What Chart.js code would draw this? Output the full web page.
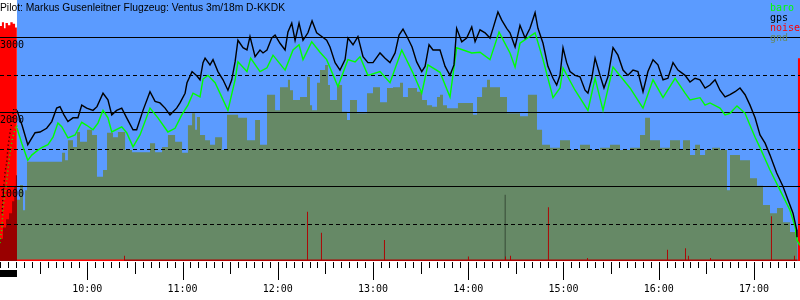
<!DOCTYPE html>
<html>
<head>
<meta charset="utf-8">
<script src="https://cdn.jsdelivr.net/npm/chart.js@4/dist/chart.umd.min.js"></script>
<style>
html,body{margin:0;padding:0;background:#fff;}
#wrap{width:800px;height:300px;}
</style>
</head>
<body>
<div id="wrap"><canvas id="c" width="800" height="300"></canvas></div>
<script>
// ---- texts ----
const TITLE = "Pilot: Markus Gusenleitner Flugzeug: Ventus 3m/18m D-KKDK";
const legendLabels = ["baro", "gps", "noise", "gnd"];
const yTickLabels = [1000, 2000, 3000];
const yGridValues = [500, 1000, 1500, 2000, 2500, 3000];
const hourTicks = [600, 660, 720, 780, 840, 900, 960, 1020]; // minutes since midnight
// time range (minutes since midnight)
const xMin = 545, xMax = 1049;
const flightStart = 555.7;
const preFlight = [545, 555.7];

// ---- gps altitude ----
const gpsTime = [546.3,546.9,548.2,549.4,550.0,551.3,553.8,555.7,558.9,562.5,567.1,570.2,574.4,577.6,580.7,582.8,585.3,587.8,591.0,594.1,596.5,599.6,603.6,606.1,609.9,613.0,615.4,618.5,621.7,624.8,628.8,631.1,635.1,639.5,642.7,645.8,649.0,652.1,656.3,658.4,661.6,662.8,666.0,669.1,671.0,672.9,674.2,677.3,679.2,682.3,685.5,688.6,691.0,693.1,694.9,698.1,700.6,702.5,705.7,708.8,710.7,713.2,716.2,718.3,721.4,724.6,726.4,728.8,730.9,733.4,735.9,739.0,741.6,744.5,747.7,750.8,752.9,756.1,759.2,762.4,764.2,767.4,770.5,773.7,776.8,780.0,784.4,787.6,790.7,793.9,796.4,798.9,801.4,804.6,807.5,810.7,812.8,815.3,817.8,822.2,825.4,828.5,831.0,832.7,835.9,839.0,842.2,844.3,847.4,850.6,853.7,855.6,858.7,861.1,864.2,866.3,869.5,872.6,875.8,878.9,882.1,883.9,887.1,890.2,893.4,895.7,897.8,899.7,902.0,904.1,907.3,910.4,913.6,915.4,917.8,919.9,923.0,925.5,928.0,931.2,934.3,937.5,940.6,943.8,946.9,950.1,953.2,956.4,959.5,962.7,965.8,969.0,972.1,976.6,979.7,982.9,986.0,989.2,992.3,995.5,998.6,1001.8,1004.9,1008.1,1011.2,1014.4,1017.5,1020.7,1023.8,1027.0,1030.1,1034.3,1038.3,1041.4,1044.6,1046.9,1047.1];
const gpsAlt = [640,890,1190,1350,1530,1720,2050,2020,1820,1560,1720,1730,1780,1870,2050,2070,1960,1870,1920,1920,2090,2050,2020,2070,2250,2160,1960,2020,2050,1920,1760,1760,2020,2270,2140,2120,2050,1960,2050,2120,2250,2390,2540,2480,2430,2660,2720,2630,2700,2540,2430,2290,2430,2670,2960,2860,2830,3010,2740,2830,2790,2830,2990,3030,2920,2830,3070,3190,2960,3190,2960,3060,3220,3060,3010,2960,2870,2660,2560,2700,2990,2900,3010,2740,2660,2660,2790,2720,2660,2790,3030,3110,3010,2870,2670,2540,2610,2900,2830,2830,2610,2490,2630,3120,2940,2990,3140,2940,3100,3060,2990,3120,3340,3230,3120,3060,2870,3160,2990,3120,3330,3120,2920,2610,2450,2360,2490,2860,2660,2540,2490,2470,2290,2250,2450,2720,2490,2320,2470,2860,2760,2560,2490,2560,2540,2270,2540,2700,2630,2430,2450,2660,2560,2490,2400,2450,2430,2320,2360,2430,2290,2200,2230,2270,2320,2230,2090,1920,1690,1580,1420,1180,1000,820,640,420,320];

// ---- baro altitude ----
const baroTime = [545.0,546.3,546.9,548.8,550.0,551.3,552.6,555.1,555.7,558.7,562.5,565.0,569.1,571.3,575.2,578.4,581.5,583.9,587.8,592.3,596.5,599.6,603.6,606.7,609.9,613.0,615.4,621.7,624.8,628.8,633.2,639.5,644.5,650.8,655.3,659.5,663.4,666.6,671.0,672.9,676.0,680.5,688.6,693.1,694.9,700.6,702.9,708.8,713.2,717.0,724.6,729.6,733.4,735.9,741.4,746.6,750.8,757.9,764.2,768.7,771.8,776.8,784.4,790.7,798.1,805.2,810.7,814.6,822.2,828.5,832.7,842.2,847.4,853.7,859.4,866.3,869.5,872.6,882.1,887.1,893.4,897.8,899.7,907.3,915.4,919.9,924.9,931.2,941.9,950.1,956.4,962.7,970.3,976.6,979.7,986.0,989.2,992.3,998.6,1001.8,1004.9,1009.3,1014.4,1017.5,1020.7,1023.8,1030.1,1036.4,1042.7,1045.9,1047.1,1049.0];
const baroAlt = [240,460,720,990,1220,1450,1620,1820,1780,1580,1350,1420,1490,1520,1560,1660,1850,1800,1650,1690,1860,1820,1760,1850,2020,1920,1730,1800,1720,1530,1690,2050,1920,1730,1780,1960,2090,2250,2200,2440,2490,2390,2020,2430,2670,2540,2720,2540,2590,2760,2560,2830,2900,2700,2940,2800,2700,2340,2700,2670,2740,2490,2540,2390,2830,2520,2250,2630,2530,2200,2860,2790,2800,2700,3070,2790,2600,2920,3060,2700,2190,2320,2590,2290,2020,2450,2020,2600,2320,2050,2430,2190,2450,2250,2160,2190,2090,2120,2050,1960,1980,2080,1980,1820,1660,1520,1220,950,680,460,280,210];

// ---- ground elevation (step values) ----
const gndTime = [555.7,557.6,559.5,560.8,562.0,584.1,586.0,587.8,591.0,593.5,595.4,599.8,603.0,606.1,609.9,612.4,616.2,619.3,623.8,628.2,639.5,642.7,647.1,650.8,655.3,659.7,663.4,666.0,667.9,669.1,671.0,674.2,677.3,680.5,684.9,688.0,695.0,700.6,705.7,708.8,713.2,718.3,721.4,726.4,727.7,729.6,734.0,738.4,740.3,741.6,744.7,746.6,749.8,751.6,752.9,757.3,760.5,763.6,765.5,769.9,776.2,780.0,784.4,788.8,792.6,797.0,798.9,802.0,807.7,810.9,814.0,817.2,820.3,822.2,824.1,826.6,833.5,839.2,843.0,845.5,848.7,851.8,853.7,860.0,864.4,872.6,877.6,883.3,886.5,891.5,897.8,904.1,910.4,916.7,923.0,929.3,935.6,941.9,948.2,951.4,954.5,960.8,967.1,973.4,975.3,979.7,982.9,986.0,989.2,993.6,998.6,1003.0,1004.9,1011.2,1017.5,1021.9,1025.7,1030.1,1034.5,1038.3,1042.7,1047.5];
const gndAlt = [820,1020,680,950,1330,1450,1350,1620,1530,1730,1600,1760,1690,1130,1220,1720,1660,1730,1490,1460,1580,1460,1530,1690,1600,1450,1820,1980,1760,1930,1690,1620,1560,1660,1490,1960,1920,1620,1890,1560,2230,2020,2330,2430,2290,2160,2200,2470,2090,2020,2390,2560,2630,2360,2160,2360,2000,1890,2160,1980,2250,2330,2130,2320,2330,2390,2200,2320,2270,2160,2090,2070,2200,2230,2090,2050,2120,2120,1960,2200,2330,2430,2330,2200,1980,1940,2230,1760,1560,1520,1620,1490,1560,1490,1520,1560,1490,1520,1690,1920,1620,1520,1620,1490,1620,1420,1560,1420,1490,1520,1490,950,1420,1350,1110,1010,750,640,710,520,390,0];

// ---- ground before take-off (dark red) ----
const preGndTime = [545.0,546.9,548.8,550.7,552.6,554.0,555.0,555.7];
const preGndAlt = [300,450,560,640,800,1000,1150,0];

// ---- noise (step values) ----
const noiseTime = [545.0,546.2,547.5,548.5,550.0,551.5,553.0,554.5,555.6,623.1,623.7,738.4,739.0,747.2,747.8,786.9,787.5,839.8,840.4,863.2,863.8,866.3,866.9,890.2,890.8,914.8,915.4,965.2,965.8,976.6,977.2,978.4,979.0,992.3,992.9,1030.7,1031.3,1045.2,1045.8,1047.6,1049.0];
const noiseVal = [3150,3200,3120,3190,3160,3200,3180,3130,20,70,20,660,20,380,20,280,20,60,20,60,20,70,20,720,20,40,20,150,20,170,20,70,20,40,20,600,20,70,20,2720,2720];

// ---- single dark spike ----
const spikeTime = [862.9, 863.5];
const spikeVal = [890, 0];

const BLUE = 'rgb(91,155,255)';
const GND = 'rgb(102,137,102)';
const RED = '#ff0000';
const DARKRED = '#990000';
const NOISE_IN_FLIGHT = '#b00000';
const GREEN = '#00ff00';

const pts = (t, v) => t.map((x, i) => ({x, y: v[i]}));
const pad = n => String(n).padStart(2, '0');
const fmt = m => pad(Math.floor(m / 60)) + ':' + pad(Math.round(m % 60));
const dashPre = ctx => (ctx.p0.parsed.x < flightStart ? [1, 3] : undefined);
const noiseFill = ctx => (ctx.p0.parsed.x < flightStart || ctx.p0.parsed.x > 1047 ? RED : NOISE_IN_FLIGHT);

const GRID_AFTER = 1; // dataset index after which grid lines are drawn
const deco = {
  id: 'deco',
  beforeDraw(chart) {
    const c = chart.ctx;
    c.save(); c.fillStyle = '#fff'; c.fillRect(0, 0, chart.width, chart.height); c.restore();
  },
  beforeDatasetsDraw(chart) {
    const {ctx, chartArea: a, scales: {x}} = chart;
    const xs = x.getPixelForValue(flightStart);
    ctx.save();
    ctx.fillStyle = BLUE;
    ctx.fillRect(xs, a.top, a.right - xs, a.bottom - a.top);
    ctx.restore();
  },
  afterDatasetDraw(chart, args) {
    if (args.index !== GRID_AFTER) return;
    const {ctx, chartArea: a, scales: {y}} = chart;
    ctx.save();
    ctx.strokeStyle = '#000';
    ctx.lineWidth = 1;
    yGridValues.forEach(v => {
      const py = Math.round(y.getPixelForValue(v)) + 0.5;
      ctx.setLineDash(v % 1000 === 0 ? [] : [4, 3]);
      ctx.beginPath(); ctx.moveTo(a.left, py); ctx.lineTo(a.right, py); ctx.stroke();
    });
    ctx.restore();
  },
  afterDraw(chart) {
    const {ctx, chartArea: a, scales: {x, y}} = chart;
    ctx.save();
    // x ticks
    ctx.strokeStyle = '#000'; ctx.lineWidth = 1;
    for (let m = xMin; m <= xMax; m += 5) {
      const px = Math.round(x.getPixelForValue(m)) + 0.5;
      let len = 6;
      if (m % 60 === 0) len = 18; else if (m % 30 === 0) len = 12;
      ctx.beginPath(); ctx.moveTo(px, a.bottom + 1); ctx.lineTo(px, a.bottom + 1 + len); ctx.stroke();
    }
    ctx.fillStyle = '#000';
    ctx.font = '10px "DejaVu Sans Mono"';
    ctx.textAlign = 'center'; ctx.textBaseline = 'middle';
    hourTicks.forEach(m => ctx.fillText(fmt(m), x.getPixelForValue(m), a.bottom + 28));
    // pre-flight bar
    ctx.fillStyle = '#000';
    const p0 = x.getPixelForValue(preFlight[0]), p1 = x.getPixelForValue(preFlight[1]);
    ctx.fillRect(p0, a.bottom + 9, p1 - p0, 7);
    // y labels
    ctx.textAlign = 'left'; ctx.textBaseline = 'top';
    yTickLabels.forEach(v => ctx.fillText(String(v), 0, Math.round(y.getPixelForValue(v)) + 3));
    // title
    ctx.font = '11px "Liberation Sans"';
    ctx.textBaseline = 'middle';
    ctx.fillText(TITLE, 0, 8, 285);
    // legend
    ctx.font = '10px "DejaVu Sans Mono"';
    const cols = [GREEN, '#000', RED, GND];
    legendLabels.forEach((t, i) => { ctx.fillStyle = cols[i]; ctx.fillText(t, 770, 8 + i * 10); });
    ctx.restore();
  }
};

new Chart(document.getElementById('c'), {
  type: 'line',
  data: {
    datasets: [
      {label: 'gnd', data: pts(gndTime, gndAlt), stepped: true, fill: 'origin', backgroundColor: GND, borderColor: 'transparent', borderWidth: 0, pointRadius: 0, order: 6},
      {label: 'gnd0', data: pts(preGndTime, preGndAlt), stepped: true, fill: 'origin', backgroundColor: DARKRED, borderColor: 'transparent', borderWidth: 0, pointRadius: 0, order: 4},
      {label: 'noise', data: pts(noiseTime, noiseVal), stepped: true, fill: 'origin', backgroundColor: RED, borderColor: 'transparent', borderWidth: 0, pointRadius: 0, order: 5, segment: {backgroundColor: noiseFill}},
      {label: 'spike', data: pts(spikeTime, spikeVal), stepped: true, fill: 'origin', backgroundColor: '#000', borderColor: 'transparent', borderWidth: 0, pointRadius: 0, order: 5},
      {label: 'baro', data: pts(baroTime, baroAlt), borderColor: GREEN, borderWidth: 1.4, pointRadius: 0, fill: false, order: 2, segment: {borderDash: dashPre}},
      {label: 'gps', data: pts(gpsTime, gpsAlt), borderColor: '#000', borderWidth: 1.4, pointRadius: 0, fill: false, order: 1, segment: {borderDash: dashPre}}
    ]
  },
  options: {
    responsive: false,
    animation: false,
    devicePixelRatio: 1,
    layout: {padding: {left: 0, right: 0, top: 0, bottom: 39}},
    plugins: {legend: {display: false}, tooltip: {enabled: false}, title: {display: false}},
    scales: {
      x: {type: 'linear', min: xMin, max: xMax, display: false},
      y: {type: 'linear', min: 0, max: 3500, display: false}
    }
  },
  plugins: [deco]
});
</script>
</body>
</html>
